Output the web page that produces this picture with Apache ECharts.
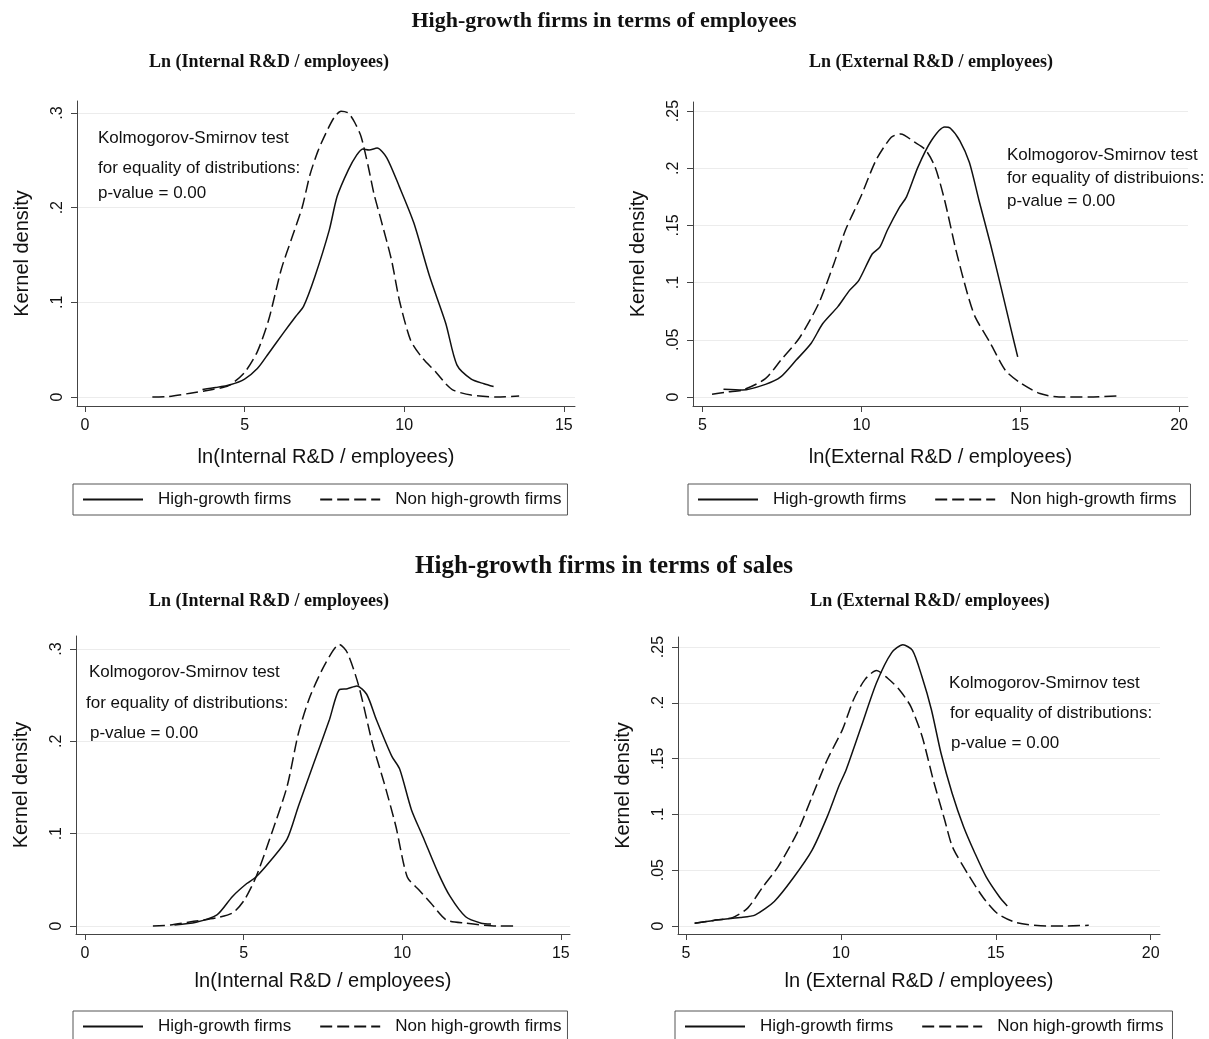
<!DOCTYPE html>
<html><head><meta charset="utf-8">
<script src="https://cdn.jsdelivr.net/npm/echarts@6/dist/echarts.min.js"></script>
<style>html,body{margin:0;padding:0;background:#fff}#c{width:1209px;height:1039px}</style>
</head><body><div id="c"></div>
<script>
// ---------- tick labels ----------
const xTicksA = [0, 5, 10, 15];
const xLabelsA = ['0', '5', '10', '15'];
const xTicksB = [5, 10, 15, 20];
const xLabelsB = ['5', '10', '15', '20'];
const yTicksA = [0, 0.1, 0.2, 0.3];
const yLabelsA = ['0', '.1', '.2', '.3'];
const yTicksB = [0, 0.05, 0.1, 0.15, 0.2, 0.25];
const yLabelsB = ['0', '.05', '.1', '.15', '.2', '.25'];

// ---------- series names ----------
const seriesNames = ['High-growth firms', 'Non high-growth firms'];

// ---------- data: employees / internal R&D ----------
const empIntHigh = [[3.68,0.008],[4.1,0.010],[4.55,0.013],[5.0,0.019],[5.4,0.030],[5.75,0.046],[6.2,0.067],[6.6,0.085],[6.85,0.096],[7.2,0.127],[7.65,0.176],[7.9,0.212],[8.25,0.240],[8.5,0.255],[8.7,0.262],[8.9,0.261],[9.15,0.263],[9.45,0.253],[9.85,0.222],[10.3,0.184],[10.8,0.127],[11.3,0.078],[11.65,0.034],[12.1,0.019],[12.5,0.014],[12.8,0.011]];
const empIntNon = [[2.11,0],[2.6,0.0005],[3.3,0.004],[4.0,0.008],[4.5,0.012],[5.0,0.026],[5.4,0.048],[5.75,0.081],[6.15,0.135],[6.5,0.170],[6.8,0.200],[7.05,0.235],[7.3,0.260],[7.55,0.279],[7.8,0.295],[8.02,0.302],[8.25,0.300],[8.45,0.290],[8.65,0.275],[8.87,0.244],[9.05,0.215],[9.25,0.190],[9.6,0.145],[9.85,0.102],[10.2,0.060],[10.55,0.042],[11.0,0.026],[11.3,0.014],[11.55,0.007],[12.1,0.002],[12.9,0],[13.6,0.001]];

// ---------- data: employees / external R&D ----------
const empExtHigh = [[5.66,0.0067],[6.26,0.006],[6.98,0.011],[7.46,0.0175],[7.94,0.032],[8.42,0.047],[8.78,0.064],[9.26,0.079],[9.62,0.093],[9.92,0.102],[10.34,0.125],[10.58,0.131],[10.82,0.146],[11.18,0.165],[11.42,0.175],[11.78,0.201],[12.2,0.224],[12.62,0.236],[12.8,0.235],[13.1,0.224],[13.4,0.205],[13.7,0.172],[14.06,0.134],[14.42,0.093],[14.72,0.058],[14.92,0.035]];
const empExtNon = [[5.3,0.0023],[5.78,0.0044],[6.26,0.006],[6.98,0.016],[7.46,0.032],[8.06,0.052],[8.66,0.082],[9.14,0.117],[9.5,0.146],[9.98,0.175],[10.46,0.207],[10.94,0.227],[11.24,0.230],[11.66,0.223],[12.02,0.216],[12.32,0.201],[12.62,0.172],[12.98,0.128],[13.34,0.090],[13.58,0.070],[14.06,0.047],[14.54,0.023],[15.02,0.012],[15.62,0.003],[16.22,0],[17.18,0],[18.14,0.001]];

// ---------- data: sales / internal R&D ----------
const salIntHigh = [[2.82,0.001],[3.5,0.004],[4.16,0.012],[4.65,0.032],[5.1,0.046],[5.39,0.053],[5.88,0.072],[6.37,0.094],[6.73,0.130],[7.22,0.177],[7.71,0.224],[8.02,0.256],[8.27,0.257],[8.57,0.260],[8.88,0.251],[9.18,0.224],[9.67,0.184],[9.92,0.170],[10.29,0.126],[10.65,0.097],[11.14,0.057],[11.51,0.032],[12.0,0.010],[12.49,0.003],[12.8,0.002]];
const salIntNon = [[2.14,0],[2.69,0.001],[3.43,0.005],[4.16,0.009],[4.65,0.014],[5.02,0.028],[5.39,0.053],[5.88,0.100],[6.37,0.151],[6.73,0.209],[7.1,0.249],[7.59,0.285],[8.02,0.305],[8.27,0.296],[8.63,0.260],[9.06,0.198],[9.43,0.155],[9.8,0.108],[10.16,0.053],[10.53,0.039],[10.9,0.025],[11.39,0.0065],[12.0,0.003],[12.98,0],[13.59,0]];

// ---------- data: sales / external R&D ----------
const salExtHigh = [[5.28,0.0024],[5.89,0.005],[6.75,0.0075],[7.24,0.010],[7.85,0.022],[8.46,0.043],[9.07,0.068],[9.56,0.098],[9.93,0.125],[10.17,0.140],[10.66,0.179],[11.15,0.218],[11.64,0.245],[12.0,0.252],[12.31,0.247],[12.61,0.224],[12.92,0.194],[13.23,0.155],[13.59,0.119],[13.96,0.089],[14.33,0.065],[14.69,0.044],[15.12,0.026],[15.37,0.018]];
const salExtNon = [[5.28,0.0024],[5.89,0.005],[6.5,0.0075],[6.99,0.016],[7.48,0.035],[7.97,0.053],[8.58,0.083],[9.07,0.116],[9.56,0.149],[10.05,0.176],[10.41,0.203],[10.78,0.221],[11.15,0.229],[11.51,0.222],[11.88,0.212],[12.25,0.197],[12.62,0.170],[12.98,0.131],[13.35,0.095],[13.6,0.071],[14.09,0.047],[14.58,0.026],[15.06,0.011],[15.67,0.003],[16.65,0],[17.27,0],[18.0,0.0006]];

// ---------- texts ----------
const mainTitles = ['High-growth firms in terms of employees', 'High-growth firms in terms of sales'];
const subTitles = ['Ln (Internal R&D / employees)', 'Ln (External R&D / employees)', 'Ln (Internal R&D / employees)', 'Ln (External R&D/ employees)'];
const xAxisNames = ['ln(Internal R&D / employees)', 'ln(External R&D / employees)', 'ln(Internal R&D / employees)', 'ln (External R&D / employees)'];
const yAxisName = 'Kernel density';
const ksLines = [
  ['Kolmogorov-Smirnov test', 'for equality of distributions:', 'p-value = 0.00'],
  ['Kolmogorov-Smirnov test', 'for equality of distribuions:', 'p-value = 0.00'],
  ['Kolmogorov-Smirnov test', 'for equality of distributions:', 'p-value = 0.00'],
  ['Kolmogorov-Smirnov test', 'for equality of distributions:', 'p-value = 0.00']
];

// ---------- layout (positions / styles) ----------
const panels = [
  {grid:{left:77,top:101,width:498,height:305}, xMin:-0.25, xMax:15.35, yMin:-0.0095, yMax:0.3127, xT:xTicksA, xL:xLabelsA, yT:yTicksA, yL:yLabelsA, high:empIntHigh, non:empIntNon, leg:{left:73, top:484, padR:6}, ks:{x:[98,98,98], y:[138,168,193]}, sub:{x:269,y:62}, xLabelMargin:12, xNameGap:41},
  {grid:{left:693,top:102,width:495,height:304}, xMin:4.7, xMax:20.28, yMin:-0.0079, yMax:0.2579, xT:xTicksB, xL:xLabelsB, yT:yTicksB, yL:yLabelsB, high:empExtHigh, non:empExtNon, leg:{left:688, top:484, padR:14}, ks:{x:[1007,1007,1007], y:[155,178,201]}, sub:{x:931,y:62}, xLabelMargin:12, xNameGap:41},
  {grid:{left:76,top:636,width:494,height:298}, xMin:-0.284, xMax:15.29, yMin:-0.0087, yMax:0.3141, xT:xTicksA, xL:xLabelsA, yT:yTicksA, yL:yLabelsA, high:salIntHigh, non:salIntNon, leg:{left:73, top:1011, padR:6}, ks:{x:[89,86,90], y:[672,703,733]}, sub:{x:269,y:601}, xLabelMargin:12, xNameGap:37},
  {grid:{left:678,top:637,width:482,height:297}, xMin:4.742, xMax:20.3, yMin:-0.0072, yMax:0.259, xT:xTicksB, xL:xLabelsB, yT:yTicksB, yL:yLabelsB, high:salExtHigh, non:salExtNon, leg:{left:675, top:1011, padR:9}, ks:{x:[949,950,951], y:[683,713,743]}, sub:{x:930,y:601}, xLabelMargin:12, xNameGap:37}
];

const SANS = '"Liberation Sans", Arial, sans-serif';
const SERIF = '"Liberation Serif", "Times New Roman", serif';
const INK = '#111';
const AXIS = '#444';
const DASH = [12, 5];

function lookup(ticks, labels) {
  return function (v) {
    for (let i = 0; i < ticks.length; i++) if (Math.abs(ticks[i] - v) < 1e-9) return labels[i];
    return '';
  };
}

const grids = [], xAxes = [], yAxes = [], series = [], legends = [], graphics = [];
panels.forEach(function (p, i) {
  grids.push(Object.assign({containLabel:false}, p.grid));
  xAxes.push({
    type:'value', gridIndex:i, min:p.xMin, max:p.xMax,
    name:xAxisNames[i], nameLocation:'middle', nameGap:p.xNameGap,
    nameTextStyle:{fontFamily:SANS, fontSize:20, color:INK},
    axisLine:{show:true, onZero:false, lineStyle:{color:AXIS, width:1}},
    axisTick:{show:true, length:6, customValues:p.xT, lineStyle:{color:AXIS}},
    axisLabel:{customValues:p.xT, formatter:lookup(p.xT, p.xL), fontFamily:SANS, fontSize:16, color:INK, margin:p.xLabelMargin},
    splitLine:{show:false}
  });
  yAxes.push({
    type:'value', gridIndex:i, min:p.yMin, max:p.yMax,
    name:yAxisName, nameLocation:'middle', nameGap:45,
    nameTextStyle:{fontFamily:SANS, fontSize:20, color:INK},
    axisLine:{show:true, onZero:false, lineStyle:{color:AXIS, width:1}},
    axisTick:{show:true, length:6, customValues:p.yT, lineStyle:{color:AXIS}},
    axisLabel:{customValues:p.yT, rotate:90, formatter:lookup(p.yT, p.yL), fontFamily:SANS, fontSize:16, color:INK, margin:11},
    splitLine:{show:true, lineStyle:{color:'#ececec', width:1}}
  });
  series.push({
    name:seriesNames[0], type:'line', xAxisIndex:i, yAxisIndex:i, data:p.high,
    symbol:'none', smooth:0.25, color:INK,
    lineStyle:{color:INK, width:1.5, type:'solid'}, animation:false
  });
  series.push({
    name:seriesNames[1], type:'line', xAxisIndex:i, yAxisIndex:i, data:p.non,
    symbol:'none', smooth:0.25, color:INK,
    lineStyle:{color:INK, width:1.5, type:DASH}, animation:false
  });
  legends.push({
    data:seriesNames.slice(), left:p.leg.left, top:p.leg.top, orient:'horizontal',
    padding:[7, p.leg.padR, 7, 9], itemGap:28, itemWidth:60, itemHeight:16,
    borderColor:'#555', borderWidth:1, borderRadius:0,
    selectedMode:false,
    itemStyle:{opacity:0, borderWidth:0},
    textStyle:{fontFamily:SANS, fontSize:17, color:INK, padding:[0,0,0,10]}
  });
  graphics.push({type:'text', x:p.sub.x, y:p.sub.y, style:{text:subTitles[i], font:'bold 18px ' + SERIF, fill:INK, align:'center', verticalAlign:'middle'}});
  ksLines[i].forEach(function (t, k) {
    graphics.push({type:'text', x:p.ks.x[k], y:p.ks.y[k], style:{text:t, font:'17px ' + SANS, fill:INK, align:'left', verticalAlign:'middle'}});
  });
});
graphics.push({type:'text', x:604, y:21, style:{text:mainTitles[0], font:'bold 22px ' + SERIF, fill:INK, align:'center', verticalAlign:'middle'}});
graphics.push({type:'text', x:604, y:567, style:{text:mainTitles[1], font:'bold 25px ' + SERIF, fill:INK, align:'center', verticalAlign:'middle'}});

const chart = echarts.init(document.getElementById('c'), null, {renderer:'canvas'});
chart.setOption({
  backgroundColor:'#fff',
  animation:false,
  grid:grids, xAxis:xAxes, yAxis:yAxes, series:series, legend:legends,
  graphic:{elements:graphics}
});
</script></body></html>
